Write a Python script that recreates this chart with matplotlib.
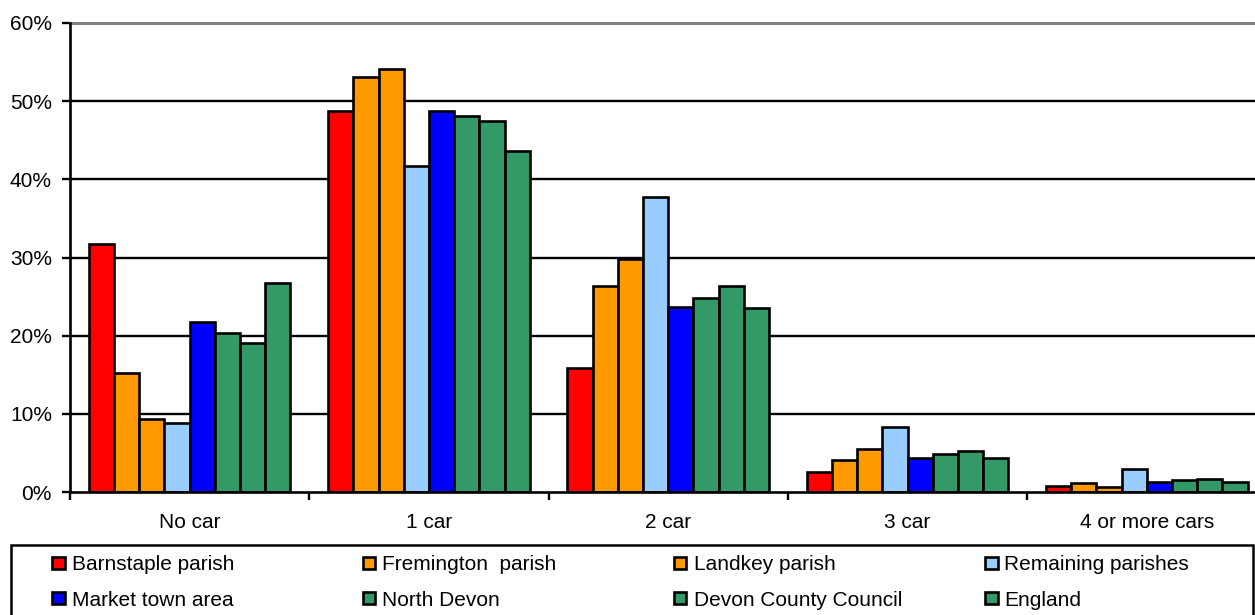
import matplotlib
matplotlib.use("Agg")
import matplotlib.pyplot as plt
from matplotlib.patches import Rectangle
from matplotlib.ticker import FixedLocator, FuncFormatter
import numpy as np

plt.rcParams["font.family"] = ["Liberation Sans", "DejaVu Sans"]

categories = ["No car", "1 car", "2 car", "3 car", "4 or more cars"]

series_names = [
    "Barnstaple parish",
    "Fremington  parish",
    "Landkey parish",
    "Remaining parishes",
    "Market town area",
    "North Devon",
    "Devon County Council",
    "England",
]
series_colors = ["#FF0000", "#FF9900", "#FF9900", "#99CCFF",
                 "#0000FF", "#339966", "#339966", "#339966"]

barnstaple = [31.7, 48.7, 15.8, 2.5, 0.8]
fremington = [15.2, 53.1, 26.3, 4.1, 1.1]
landkey = [9.4, 54.1, 29.8, 5.5, 0.7]
remaining = [8.8, 41.7, 37.8, 8.3, 3.0]
market_town = [21.7, 48.7, 23.7, 4.3, 1.3]
north_devon = [20.3, 48.1, 24.8, 4.9, 1.5]
devon_cc = [19.1, 47.4, 26.3, 5.2, 1.7]
england = [26.7, 43.6, 23.5, 4.4, 1.3]

series_values = [barnstaple, fremington, landkey, remaining,
                 market_town, north_devon, devon_cc, england]

W, H, DPI = 1255, 615, 100
FS = 15
fig = plt.figure(figsize=(W / DPI, H / DPI), dpi=DPI)

# plot area in pixels (it runs slightly past the right edge of the canvas)
ax_left, ax_top, ax_bottom = 70, 23, 492
cat_px = 239.3
ax_right = ax_left + cat_px * len(categories)
ax = fig.add_axes([ax_left / W, 1 - ax_bottom / H,
                   (ax_right - ax_left) / W, (ax_bottom - ax_top) / H])

n = len(series_values)
group = n / (n + 1.5)          # gap width 150 %
bw = group / n
x = np.arange(len(categories))
for i, (vals, col) in enumerate(zip(series_values, series_colors)):
    ax.bar(x - group / 2 + bw * (i + 0.5), vals, width=bw, color=col,
           edgecolor="black", linewidth=1.9, zorder=3)

ax.set_xlim(-0.5, len(categories) - 0.5)
ax.set_ylim(0, 60)

# horizontal gridlines
for yv in range(10, 60, 10):
    ax.axhline(yv, color="black", linewidth=1.7, zorder=1)

ax.yaxis.set_major_locator(FixedLocator(range(0, 61, 10)))
ax.yaxis.set_major_formatter(FuncFormatter(lambda v, p: f"{v:.0f}%"))
ax.tick_params(axis="y", direction="out", length=6, width=1.7,
               labelsize=FS, pad=7, colors="black")

ax.xaxis.set_major_locator(FixedLocator(np.arange(-0.5, len(categories) + 0.5, 1)))
ax.xaxis.set_major_formatter(FuncFormatter(lambda v, p: ""))
ax.set_xticks(x, minor=True)
ax.set_xticklabels(categories, minor=True)
ax.tick_params(axis="x", which="major", direction="out", length=6, width=1.7)
ax.tick_params(axis="x", which="minor", length=0, labelsize=FS, pad=15)

for side in ("left", "bottom"):
    ax.spines[side].set_color("black")
    ax.spines[side].set_linewidth(1.9)
ax.spines["top"].set_color("#808080")
ax.spines["top"].set_linewidth(2.2)
ax.spines["right"].set_visible(False)
ax.spines["left"].set_zorder(4)
ax.spines["bottom"].set_zorder(4)


def px(xp, yp):
    return xp / W, 1 - yp / H


# legend frame
lx0, ly0, lx1, ly1 = 11.5, 545, 1253, 640
fig.patches.append(Rectangle(px(lx0, ly1), (lx1 - lx0) / W, (ly1 - ly0) / H,
                             transform=fig.transFigure, facecolor="white",
                             edgecolor="black", linewidth=1.8))

col_x = [52 + 311 * c for c in range(4)]
row_y = [563, 598]
msize = 12.5
for k, (name, col) in enumerate(zip(series_names, series_colors)):
    r, c = divmod(k, 4)
    mx, my = col_x[c], row_y[r]
    fig.patches.append(Rectangle(px(mx, my + msize / 2), msize / W, msize / H,
                                 transform=fig.transFigure, facecolor=col,
                                 edgecolor="black", linewidth=1.9))
    fx, fy = px(mx + 19.5, my)
    fig.text(fx, fy, name, fontsize=FS, va="center_baseline", ha="left")

fig.savefig("out.png", dpi=DPI)
